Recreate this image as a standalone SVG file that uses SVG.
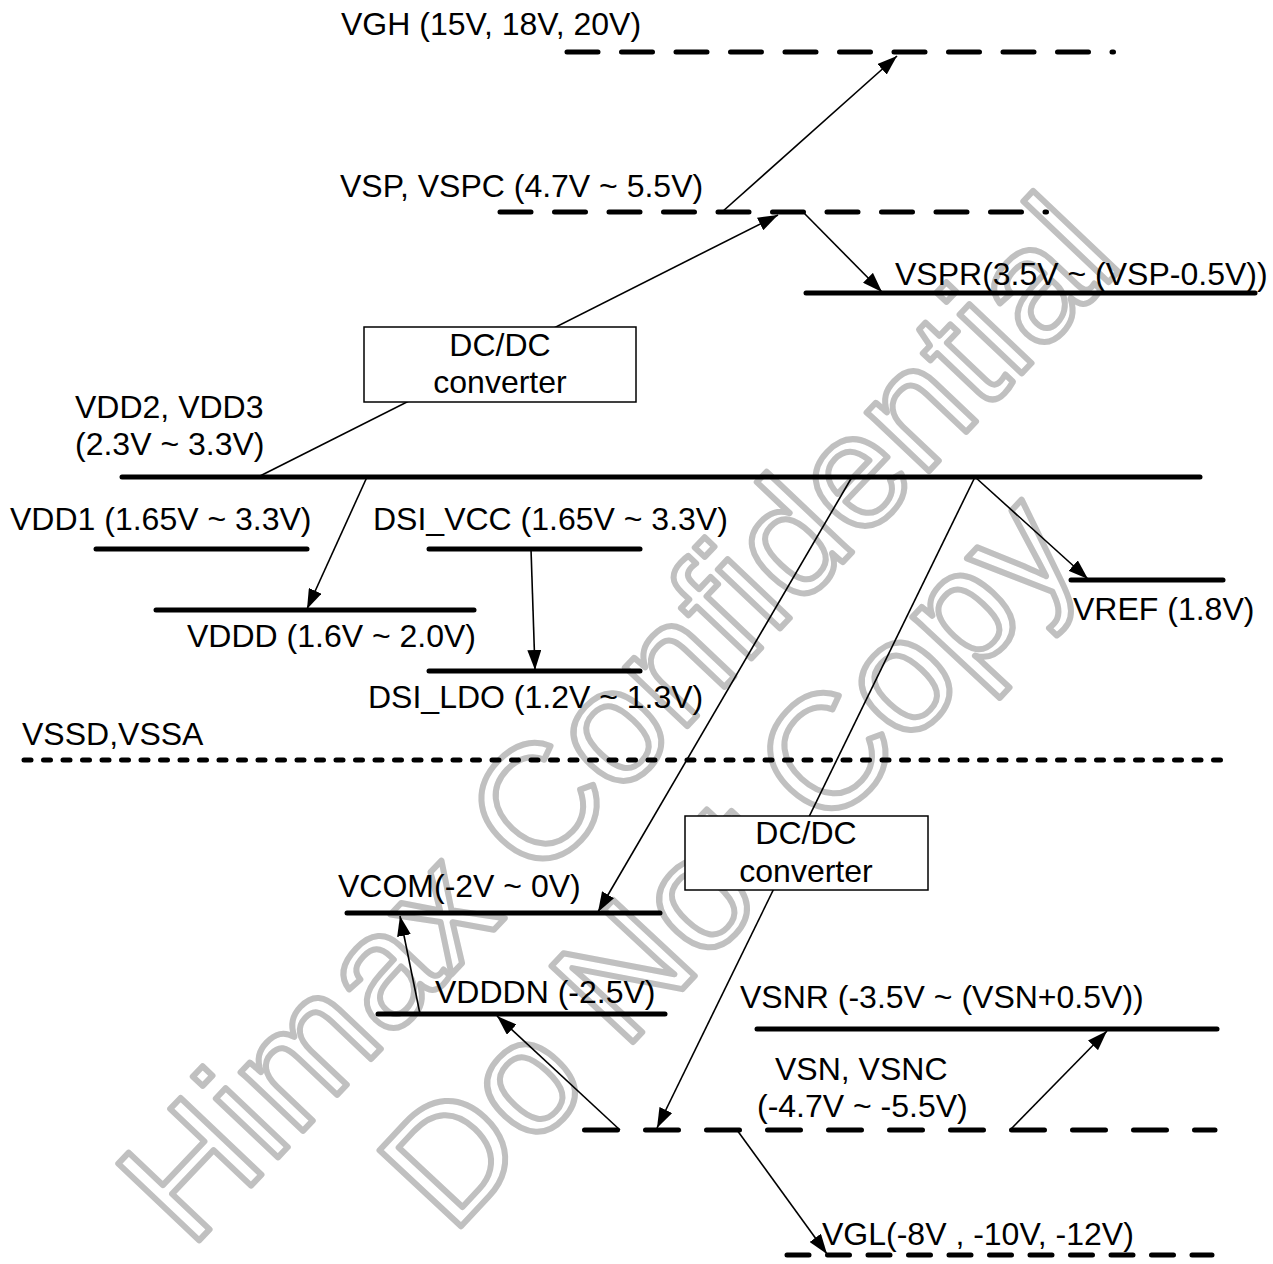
<svg xmlns="http://www.w3.org/2000/svg" width="1273" height="1264" viewBox="0 0 1273 1264">
<defs>
<marker id="ah" viewBox="0 0 20 14" refX="20" refY="7" markerWidth="20" markerHeight="14" markerUnits="userSpaceOnUse" orient="auto">
<path d="M0,0 L20,7 L0,14 z" fill="#000"/>
</marker>
<style>
text{font-family:"Liberation Sans",Arial,sans-serif;font-size:32px;fill:#000}
.wm{font-family:"Liberation Sans",Arial,sans-serif;font-size:162px;fill:none;stroke:#c0c0c0;stroke-width:6;stroke-linejoin:round}
.solid{stroke:#000;stroke-width:5;stroke-linecap:round;fill:none}
.dash54{stroke:#000;stroke-width:5;stroke-linecap:round;fill:none;stroke-dasharray:31 23.5}
.dash61{stroke:#000;stroke-width:5;stroke-linecap:round;fill:none;stroke-dasharray:33 28}
.dash40{stroke:#000;stroke-width:5;stroke-linecap:round;fill:none;stroke-dasharray:22 18.5}
.dot{stroke:#000;stroke-width:5;stroke-linecap:round;fill:none;stroke-dasharray:7 12.5}
.arr{stroke:#000;stroke-width:1.6;fill:none;marker-end:url(#ah)}
.box{fill:#fff;stroke:#000;stroke-width:1.5}
</style>
</defs>
<rect width="1273" height="1264" fill="#fff"/>
<g id="watermark">
<text class="wm" transform="translate(190,1250) rotate(-46.5)">Himax Confidential</text>
<text class="wm" transform="translate(452,1236) rotate(-47)">Do Not Copy</text>
</g>
<g id="connectors">
<path class="arr" d="M722,212 L897,56"/>
<path class="arr" d="M258,477 L778,215"/>
<path class="arr" d="M803,212 L882,292"/>
<path class="arr" d="M367,477 L307,609"/>
<path class="arr" d="M531,549 L535,670"/>
<path class="arr" d="M975,477 L1088,579"/>
<path class="arr" d="M852,477 L598,912"/>
<path class="arr" d="M975,477 L657,1128"/>
<path class="arr" d="M620,1130 L497,1016"/>
<path class="arr" d="M420,1014 L400,916"/>
<path class="arr" d="M1010,1130 L1107,1031"/>
<path class="arr" d="M737,1130 L827,1254"/>
</g>
<g id="vgh">
<path class="dash54" d="M567,52 H1113.5"/>
<text x="341" y="35">VGH (15V, 18V, 20V)</text>
</g>
<g id="vsp">
<path class="dash54" d="M500,212 H1046.5"/>
<text x="340" y="197">VSP, VSPC (4.7V ~ 5.5V)</text>
</g>
<g id="vspr">
<path class="solid" d="M806,293 H1255"/>
<text x="895" y="285">VSPR(3.5V ~ (VSP-0.5V))</text>
</g>
<g id="dcdc1">
<rect class="box" x="364" y="327" width="272" height="75"/>
<text x="500" y="356" text-anchor="middle">DC/DC</text>
<text x="500" y="393" text-anchor="middle">converter</text>
</g>
<g id="vdd2">
<path class="solid" d="M122,477 H1200"/>
<text x="75" y="418">VDD2, VDD3</text>
<text x="75" y="455">(2.3V ~ 3.3V)</text>
</g>
<g id="vdd1">
<path class="solid" d="M96,549 H307"/>
<text x="10" y="530">VDD1 (1.65V ~ 3.3V)</text>
</g>
<g id="dsi_vcc">
<path class="solid" d="M429,549 H640"/>
<text x="373" y="530">DSI_VCC (1.65V ~ 3.3V)</text>
</g>
<g id="vddd">
<path class="solid" d="M156,610 H474"/>
<text x="187" y="647">VDDD (1.6V ~ 2.0V)</text>
</g>
<g id="dsi_ldo">
<path class="solid" d="M429,671 H640"/>
<text x="368" y="708">DSI_LDO (1.2V ~ 1.3V)</text>
</g>
<g id="vref">
<path class="solid" d="M1071,580 H1223"/>
<text x="1073" y="620">VREF (1.8V)</text>
</g>
<g id="vssd">
<path class="dot" d="M24,760 H1228"/>
<text x="22" y="745">VSSD,VSSA</text>
</g>
<g id="dcdc2">
<rect class="box" x="685" y="816" width="243" height="74"/>
<text x="806" y="844" text-anchor="middle">DC/DC</text>
<text x="806" y="882" text-anchor="middle">converter</text>
</g>
<g id="vcom">
<path class="solid" d="M347,913 H660"/>
<text x="338" y="897">VCOM(-2V ~ 0V)</text>
</g>
<g id="vdddn">
<path class="solid" d="M378,1014 H665"/>
<text x="435" y="1003">VDDDN (-2.5V)</text>
</g>
<g id="vsnr">
<path class="solid" d="M757,1029 H1217"/>
<text x="740" y="1008">VSNR (-3.5V ~ (VSN+0.5V))</text>
</g>
<g id="vsn">
<path class="dash61" d="M584.5,1130 H1215"/>
<text x="775" y="1080">VSN, VSNC</text>
<text x="757" y="1117">(-4.7V ~ -5.5V)</text>
</g>
<g id="vgl">
<path class="dash40" d="M787,1255 H1212"/>
<text x="822" y="1245">VGL(-8V , -10V, -12V)</text>
</g>
</svg>
